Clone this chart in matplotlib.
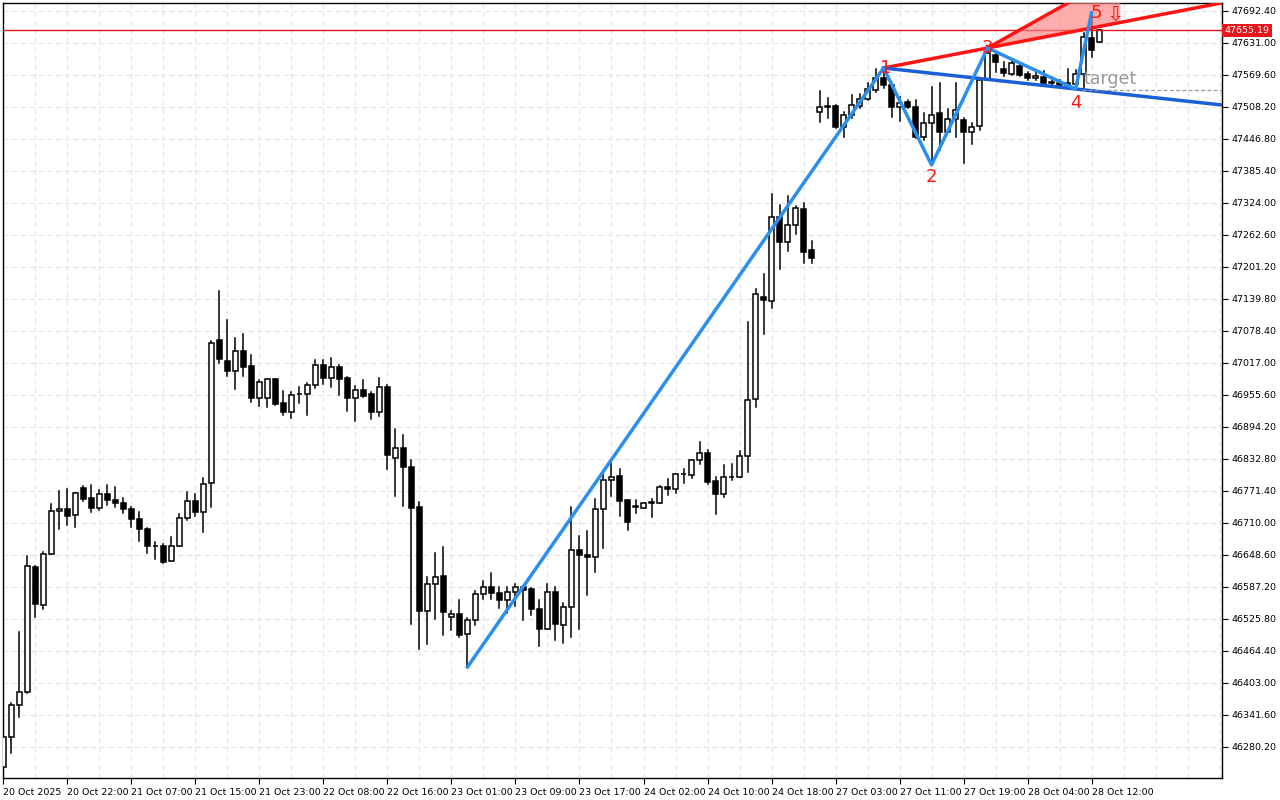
import matplotlib
matplotlib.use("Agg")
import matplotlib.pyplot as plt
from matplotlib.patches import Rectangle, Polygon
import numpy as np

opens = [46241.8,46299.4,46360.8,46385.7,46625.6,46552.7,46650.6,46733.0,46736.8,46725.3,
46777.2,46757.9,46738.8,46765.6,46754.1,46748.4,46736.8,46717.7,46698.5,46665.9,
46665.9,46637.1,46665.9,46719.6,46752.2,46731.1,46786.7,47061.1,47020.8,47001.6,
47040.0,47011.2,46949.9,46949.9,46986.3,46940.3,46922.9,46957.5,46957.5,46974.8,
47013.1,46988.2,47009.3,46988.2,46949.9,46965.2,46957.5,46922.9,46970.9,46834.7,
46853.9,46817.4,46740.7,46541.1,46593.0,46608.3,46529.6,46535.3,46497.0,46523.9,
46573.7,46587.2,46575.6,46562.3,46577.6,46587.2,46583.3,46545.0,46506.6,46577.6,
46514.3,46548.8,46658.2,46648.6,46644.8,46736.8,46792.5,46800.2,46754.1,46740.7,
46738.8,46750.3,46748.4,46779.1,46775.2,46804.0,46802.1,46830.9,46844.3,46790.6,
46765.6,46798.3,46798.3,46838.5,46947.9,47143.6,47136.0,47297.1,47249.2,47281.8,
47312.5,47233.8,47498.6,47508.2,47510.1,47469.8,47492.8,47510.1,47523.5,47540.8,
47563.8,47550.4,47508.2,47517.8,47508.2,47450.6,47477.5,47496.7,47460.2,47485.2,
47483.3,47460.2,47471.7,47560.0,47608.0,47581.1,47571.5,47586.9,47571.5,47563.8,
47565.8,47556.2,47554.2,47554.2,47552.3,47571.5,47640.6,47632.9]
highs = [46299.4,46364.6,46500.9,46646.7,46627.5,46654.4,46746.4,46771.4,46775.2,46767.5,
46781.0,46782.9,46773.3,46782.9,46779.1,46757.9,46740.7,46731.1,46700.4,46673.6,
46669.7,46683.1,46727.3,46769.5,46765.6,46796.3,47059.2,47155.1,47099.5,47065.0,
47072.6,47032.3,46984.4,46986.3,46986.3,46963.3,46961.4,46970.9,46978.6,47022.7,
47022.7,47026.6,47013.1,46990.1,46972.9,46984.4,46961.4,46988.2,46974.8,46890.4,
46878.8,46830.9,46750.3,46606.4,46652.5,46663.9,46541.1,46562.3,46527.7,46579.5,
46598.8,46614.0,46587.2,46587.2,46592.9,46589.1,46585.2,46562.3,46592.9,46587.2,
46556.5,46740.7,46685.0,46694.6,46756.0,46805.9,46825.1,46813.6,46754.1,46754.1,
46748.4,46756.0,46781.0,46794.4,46804.0,46813.6,46830.9,46865.4,46850.1,46798.3,
46821.3,46823.2,46848.2,47095.7,47159.0,47187.8,47341.3,47320.2,47337.4,47318.2,
47324.0,47251.1,47538.9,47525.5,47512.0,47498.6,47531.2,47533.1,47554.2,47581.1,
47583.0,47554.2,47527.4,47521.6,47521.6,47496.7,47546.6,47554.2,47504.4,47554.2,
47487.1,47477.5,47560.0,47621.4,47611.8,47594.5,47598.4,47590.7,47575.3,47575.3,
47577.3,47565.8,47560.0,47581.1,47579.2,47650.0,47688.6,47655.9]
lows = [46232.0,46268.7,46337.8,46383.8,46529.6,46545.0,46650.6,46698.5,46706.2,46702.3,
46752.2,46731.1,46735.0,46744.6,46740.7,46729.2,46702.3,46675.5,46652.5,46640.9,
46633.2,46637.1,46665.9,46715.8,46723.4,46692.7,46740.7,47017.0,46992.0,46967.1,
46992.0,46942.2,46934.5,46932.6,46936.4,46917.2,46911.4,46940.3,46917.2,46969.0,
46976.7,46970.9,46955.6,46924.9,46905.7,46951.8,46909.5,46915.3,46813.6,46761.8,
46742.6,46516.2,46468.2,46477.8,46525.8,46495.1,46504.7,46491.3,46433.7,46514.3,
46564.1,46564.1,46546.9,46537.3,46550.7,46523.9,46533.4,46474.0,46506.6,46485.5,
46479.7,46491.3,46506.6,46571.8,46616.0,46662.0,46761.8,46723.4,46696.6,46729.2,
46738.8,46721.5,46748.4,46763.7,46767.5,46786.7,46796.3,46823.2,46784.8,46727.3,
46759.9,46792.5,46798.3,46807.9,46932.6,47072.6,47122.5,47197.4,47231.9,47264.5,
47208.9,47208.9,47479.4,47487.1,47467.9,47450.6,47487.1,47506.3,47521.6,47537.0,
47544.6,47489.0,47481.3,47506.3,47448.7,47444.9,47396.9,47425.7,47460.2,47450.6,
47400.7,47437.2,47464.0,47560.0,47575.3,47567.7,47569.6,47567.7,47560.0,47560.0,
47554.2,47550.4,47548.5,47546.6,47542.7,47544.6,47604.1,47632.1]
closes = [46299.4,46360.8,46385.7,46627.5,46554.6,46650.6,46733.0,46736.8,46723.4,46767.5,
46756.0,46738.8,46765.6,46754.1,46748.4,46736.8,46717.7,46698.5,46665.9,46665.0,
46635.1,46665.9,46719.6,46752.2,46731.1,46784.8,47055.4,47024.7,47001.6,47040.0,
47009.3,46949.9,46980.6,46986.3,46938.4,46922.9,46955.6,46957.0,46974.8,47013.1,
46988.2,47009.3,46986.3,46949.9,46965.2,46953.7,46922.9,46970.9,46840.5,46853.9,
46817.4,46738.8,46541.1,46593.0,46606.4,46539.2,46535.3,46495.1,46523.9,46573.7,
46587.2,46575.6,46562.3,46577.6,46587.2,46581.4,46545.0,46506.6,46577.6,46516.2,
46548.8,46658.2,46648.6,46644.8,46736.8,46792.5,46798.3,46752.2,46711.9,46742.6,
46748.4,46748.4,46779.1,46775.2,46804.0,46804.5,46830.9,46844.3,46788.7,46765.6,
46798.3,46798.8,46838.5,46946.0,47149.4,47137.9,47297.1,47249.2,47281.8,47314.4,
47230.0,47218.5,47508.2,47510.6,47469.8,47492.8,47512.0,47523.5,47542.7,47563.8,
47550.4,47508.2,47515.9,47508.2,47450.6,47477.5,47492.8,47460.2,47485.2,47502.4,
47460.2,47469.8,47560.0,47611.8,47594.5,47573.4,47592.6,47569.6,47563.8,47567.7,
47554.2,47554.2,47550.4,47550.4,47571.5,47642.5,47617.6,47655.19]

wave_idx = [58, 110, 116, 123, 134, 136]
wave_px = [46433.7, 47583.0, 47396.9, 47621.4, 47542.7, 47688.6]
wave_labels = ["", "1", "2", "3", "4", "5"]
price_ticks = [46280.2 + 61.4 * k for k in range(24)]
time_labels = ["20 Oct 2025","20 Oct 22:00","21 Oct 07:00","21 Oct 15:00","21 Oct 23:00",
"22 Oct 08:00","22 Oct 16:00","23 Oct 01:00","23 Oct 09:00","23 Oct 17:00","24 Oct 02:00",
"24 Oct 10:00","24 Oct 18:00","27 Oct 03:00","27 Oct 11:00","27 Oct 19:00","28 Oct 04:00","28 Oct 12:00"]
current_price = 47655.19
target_price = 47540.0

fig = plt.figure(figsize=(12.8, 8.0), dpi=100)
ax = fig.add_axes([3/1280, 22/800, 1219/1280, 775/800])
xmax = 152.3
ax.set_xlim(-0.05, xmax)
ax.set_ylim(46220.7, 47707.7)

for gx in range(0, 153, 4):
    ax.axvline(gx, color="#e4e4e4", lw=0.9, ls=(0, (4, 3)), zorder=0)
for p in price_ticks:
    ax.axhline(p, color="#e4e4e4", lw=0.9, ls=(0, (4, 3)), zorder=0)

w = 0.62
for i, (o, h, l, c) in enumerate(zip(opens, highs, lows, closes)):
    ax.plot([i, i], [l, h], color="black", lw=1.1, zorder=2)
    lo, hi = min(o, c), max(o, c)
    face = "white" if c >= o else "black"
    ax.add_patch(Rectangle((i - w/2, lo), w, max(hi - lo, 0.8), facecolor=face,
                           edgecolor="black", lw=1.1, zorder=3))

ax.axhline(current_price, color="#e8161b", lw=1.0, zorder=4)

i1, p1 = wave_idx[1], wave_px[1]
i3, p3 = wave_idx[3], wave_px[3]
i4, p4 = wave_idx[4], wave_px[4]
s13 = (p3 - p1) / (i3 - i1)
s14 = (p4 - p1) / (i4 - i1)
ax.plot([i1, xmax], [p1, p1 + s13 * (xmax - i1)], color="#ff1414", lw=2.5, zorder=5)
ax.plot([i1, xmax], [p1, p1 + s14 * (xmax - i1)], color="#1a5fd6", lw=2.5, zorder=5)
steep = 8.6
xr = 139.6
poly = Polygon([[i3, p3], [xr, p3 + s13 * (xr - i3)],
                [xr, p3 + steep * (xr - i3)]], closed=True,
               facecolor="#ff8080", alpha=0.65, edgecolor="none", zorder=4)
ax.add_patch(poly)
ax.plot([i3, xr], [p3, p3 + steep * (xr - i3)], color="#ff1414", lw=2.5, zorder=5)
ax.plot(wave_idx, wave_px, color="#2b8ff0", lw=2.5, zorder=6)

lbl_off = {1: (0.3, 0), 2: (0, -24), 3: (0, 0), 4: (0, -26), 5: (0.6, 0)}
for k in range(1, 6):
    dx, dy = lbl_off[k]
    ax.text(wave_idx[k] + dx, wave_px[k] + dy, wave_labels[k], color="#ff1414",
            fontsize=13, ha="center", va="center", zorder=7)
ax.text(139.0, 47686.0, "⇩", color="#ff1414", fontsize=15, ha="center", va="center", zorder=7)
ax.plot([134.8, xmax], [target_price, target_price], color="#999999", lw=0.9, ls=(0, (3, 2)), zorder=5)
ax.text(135.0, target_price + 22, "target", color="#999999", fontsize=12.5, ha="left",
        va="center", zorder=7)

ax.yaxis.tick_right()
ax.set_yticks(price_ticks)
ax.set_yticklabels([f"{p:.2f}" for p in price_ticks])
ax.set_xticks([8 * k for k in range(len(time_labels))])
ax.set_xticklabels(time_labels)
ax.tick_params(axis="y", labelsize=6.8, length=4, pad=3, colors="black")
ax.tick_params(axis="x", labelsize=6.8, length=4, pad=3)
for t in ax.get_xticklabels():
    t.set_ha("left")
for sp in ax.spines.values():
    sp.set_color("black")
    sp.set_linewidth(1.0)
ax.text(1.0 + 0.002, current_price, f"{current_price:.2f}", transform=ax.get_yaxis_transform(),
        fontsize=6.8, color="white", ha="left", va="center", zorder=10, clip_on=False,
        bbox=dict(boxstyle="square,pad=0.25", facecolor="#e8161b", edgecolor="none"))

fig.savefig("out.png", dpi=100, facecolor="white")
